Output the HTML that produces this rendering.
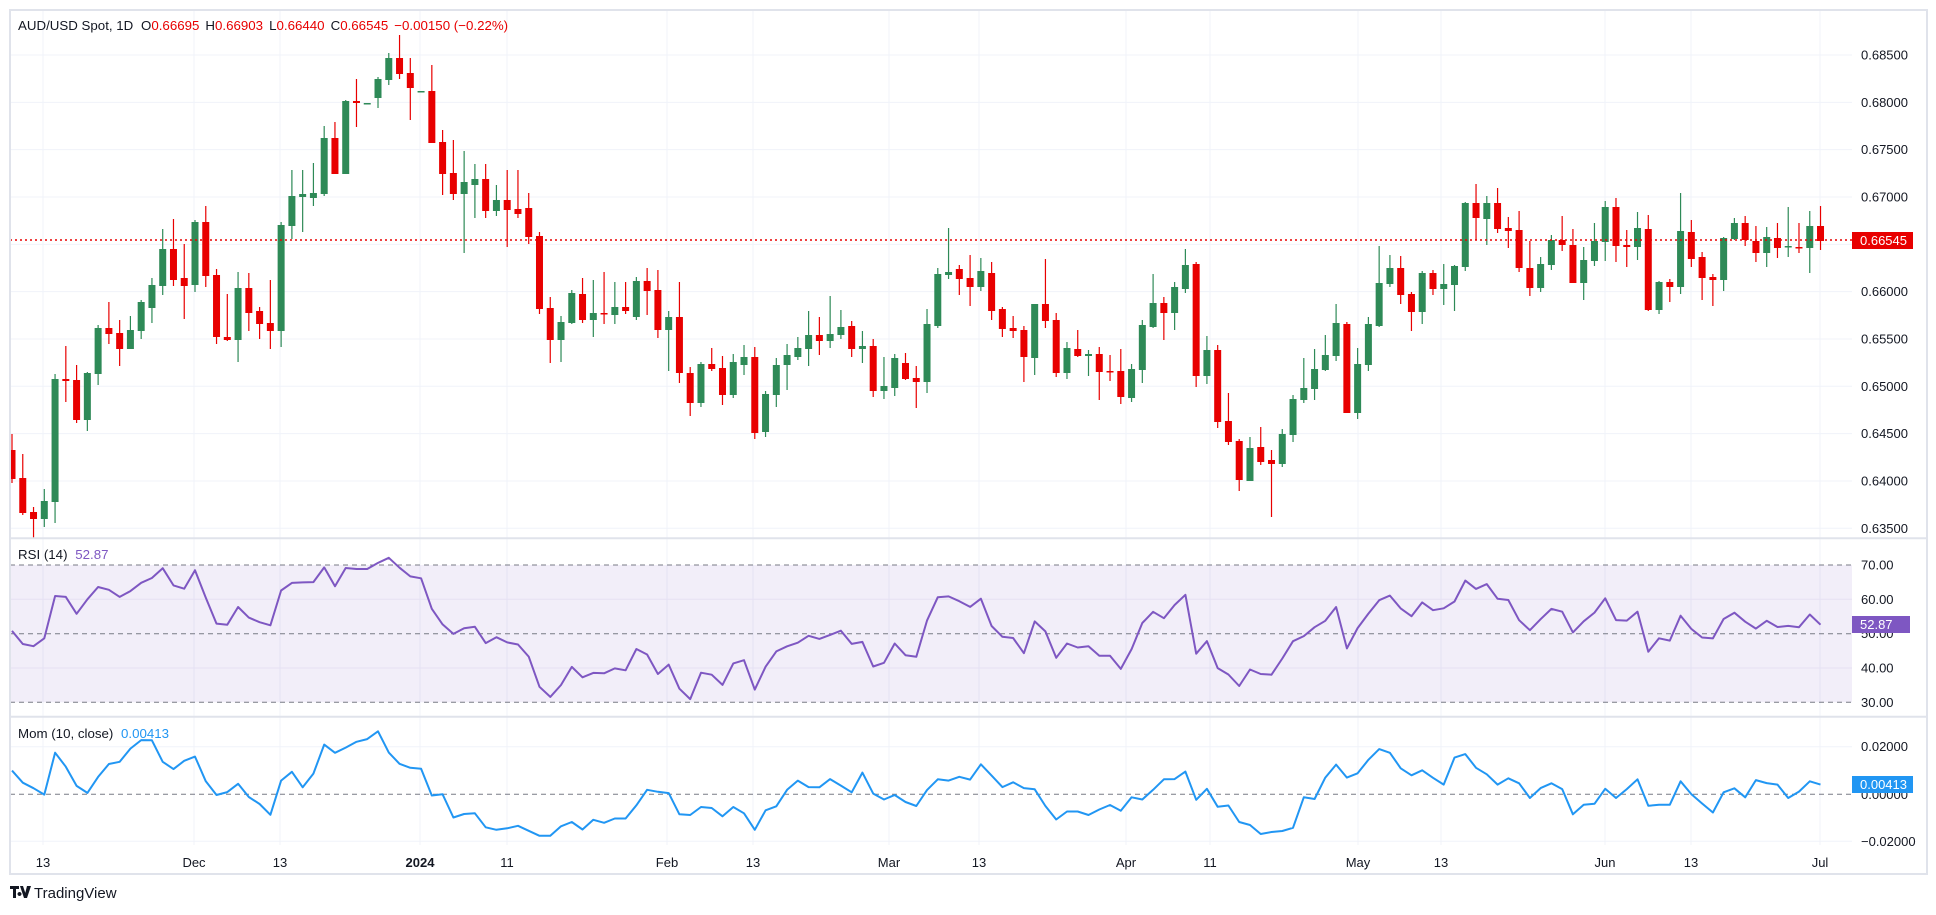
<!DOCTYPE html>
<html><head><meta charset="utf-8">
<style>
html,body{margin:0;padding:0;background:#fff;}
body{width:1936px;height:910px;overflow:hidden;font-family:"Liberation Sans",Arial,sans-serif;}
svg text{font-family:"Liberation Sans",Arial,sans-serif;}
</style></head>
<body>
<svg id="c" width="1936" height="910" xmlns="http://www.w3.org/2000/svg">
<rect x="0" y="0" width="1936" height="910" fill="#fff"/>
<g id="grid"></g>
<rect x="10" y="565" width="1842" height="137.3" fill="#7e57c2" fill-opacity="0.1"/>
<g id="rsiGrid"></g>
<g id="candles"></g>
<line x1="10" y1="240" x2="1852" y2="240" stroke="#e80000" stroke-width="1.5" stroke-dasharray="2,3"/>
<g id="ind"></g>
<g id="axis" font-size="13" fill="#131722"></g>
<rect x="10" y="10" width="1917" height="864" fill="none" stroke="#e0e3eb" stroke-width="2"/>
<line x1="10" y1="538.3" x2="1927" y2="538.3" stroke="#e0e3eb" stroke-width="2"/>
<line x1="10" y1="716.7" x2="1927" y2="716.7" stroke="#e0e3eb" stroke-width="2"/>
<text x="18" y="30" font-size="13.3" fill="#131722">AUD/USD Spot, 1D <tspan dx="4">O</tspan><tspan fill="#e80000">0.66695</tspan><tspan dx="6">H</tspan><tspan fill="#e80000">0.66903</tspan><tspan dx="6">L</tspan><tspan fill="#e80000">0.66440</tspan><tspan dx="6">C</tspan><tspan fill="#e80000">0.66545</tspan><tspan dx="6" fill="#e80000">−0.00150 (−0.22%)</tspan></text>
<text x="18" y="559" font-size="13.3" fill="#131722">RSI (14) <tspan dx="4" fill="#7e57c2">52.87</tspan></text>
<text x="18" y="738" font-size="13.3" fill="#131722">Mom (10, close) <tspan dx="4" fill="#2196f3">0.00413</tspan></text>
<rect x="1852" y="232" width="61" height="17" fill="#e80000"/>
<text x="1860" y="245" font-size="13" fill="#fff">0.66545</text>
<rect x="1852" y="616" width="58" height="17" fill="#7e57c2"/>
<text x="1860" y="629" font-size="13" fill="#fff">52.87</text>
<rect x="1852" y="776" width="61" height="17" fill="#2196f3"/>
<text x="1860" y="789" font-size="13" fill="#fff">0.00413</text>
<g transform="translate(10,884)">
<path d="M0 2h9v3H6v9H3V5H0z M10 2h3l4 12h-3z M9.5 8a2 2 0 1 0 0.01 0z M17 2h4l-4 12h-3z" fill="#131722"/>
<text x="24" y="14" font-size="15" fill="#131722">TradingView</text>
</g>
</svg>
<script>
const NS="http://www.w3.org/2000/svg";
function el(p,t,a){const e=document.createElementNS(NS,t);for(const k in a)e.setAttribute(k,a[k]);p.appendChild(e);return e;}
const D=[
[450,479,434,483],[478,513,454,515],[512,519,507,538],[519,501,489,527],[502,379,374,523],
[379,381,346,402],[380,420,365,423],[420,373,372,431],[374,328,325,385],[328,334,302,344],
[333,349,320,366],[349,330,316,349],[331,302,300,339],[308,285,278,323],[286,249,229,295],
[249,280,219,286],[278,286,244,319],[285,222,220,292],[222,276,206,287],[275,337,269,344],
[337,340,294,341],[340,288,272,362],[288,313,273,331],[311,324,307,339],[323,331,280,349],
[331,225,222,347],[226,196,170,239],[197,194,170,232],[198,193,163,206],[194,138,126,196],
[138,174,122,174],[174,101,100,174],[101,103,79,127],[103,103,103,104],[98,79,77,108],
[80,58,53,85],[58,74,35,79],[73,88,58,120],[91,91,91,91],[91,143,65,143],
[142,174,130,195],[173,194,140,200],[194,182,151,253],[185,179,164,218],[179,211,164,218],
[211,200,185,216],[200,210,170,247],[209,214,170,218],[208,237,193,244],[236,309,232,314],
[308,340,297,363],[340,322,316,362],[323,293,290,324],[294,320,278,323],[320,313,280,337],
[313,314,272,324],[315,307,282,324],[307,311,282,314],[317,281,277,320],[281,291,268,315],
[290,330,270,338],[330,317,311,371],[317,373,282,383],[373,403,367,416],[403,364,362,407],
[364,369,348,371],[368,395,356,405],[395,362,354,398],[365,357,345,375],[357,433,347,439],
[432,394,391,437],[395,365,358,407],[365,355,344,390],[357,348,337,360],[349,335,311,366],
[335,341,317,355],[341,334,296,348],[335,327,310,339],[326,349,321,357],[349,346,331,363],
[346,391,339,397],[391,386,357,399],[388,358,354,396],[363,379,353,380],[378,382,366,408],
[382,324,309,393],[326,274,268,328],[275,272,228,279],[269,279,265,295],[278,287,255,306],
[287,271,258,291],[273,311,262,320],[309,329,307,337],[328,331,316,338],[330,357,326,382],
[358,304,304,375],[304,321,259,328],[320,373,313,377],[373,348,342,379],[349,356,330,357],
[356,354,350,376],[354,372,347,400],[371,372,355,381],[371,397,349,404],[398,369,364,402],
[370,325,320,383],[327,303,274,328],[303,313,297,340],[313,287,282,330],[289,265,249,293],
[264,376,262,387],[376,350,336,384],[350,422,345,428],[421,442,393,445],[441,480,439,491],
[481,448,437,481],[447,462,427,465],[460,464,450,517],[464,434,429,467],[435,399,395,442],
[400,388,358,403],[389,369,349,400],[370,355,335,371],[356,323,304,361],[324,413,322,413],
[413,364,348,419],[365,324,317,371],[326,283,246,327],[284,268,255,287],[268,295,256,304],
[294,312,292,331],[312,273,271,324],[273,289,270,295],[289,284,264,305],[285,266,265,311],
[267,203,202,271],[203,218,184,240],[219,203,196,245],[203,229,188,233],[228,231,217,248],
[230,268,211,272],[268,288,241,296],[288,264,257,292],[265,240,235,270],[240,245,216,251],
[245,283,229,283],[283,260,247,300],[261,241,223,266],[242,207,201,261],[207,246,198,262],
[245,247,230,267],[247,228,212,260],[229,310,215,311],[310,282,281,314],[282,287,279,302],
[287,231,193,294],[232,259,220,267],[257,278,252,300],[277,280,274,306],[280,238,237,291],
[239,223,218,240],[223,240,216,246],[241,253,226,262],[253,237,227,267],[238,248,223,258],
[246,246,207,257],[247,248,223,253],[248,226,211,273],[226,241,206,250]];
const X=i=>12+10.765*i;
const G="#2e8a57",R="#e80000";
const grid=document.getElementById('grid'),cg=document.getElementById('candles'),ax=document.getElementById('axis'),ind=document.getElementById('ind'),rg=document.getElementById('rsiGrid');
for(let k=0;k<=10;k++){const y=55+k*47.33;el(grid,'line',{x1:10,y1:y,x2:1852,y2:y,stroke:'#f0f3fa','stroke-width':1});
 const t=el(ax,'text',{x:1861,y:y+4.5});t.textContent=(0.685-k*0.005).toFixed(5);}
const TL=[[43,'13'],[194,'Dec'],[280,'13'],[420,'2024',1],[507,'11'],[667,'Feb'],[753,'13'],[889,'Mar'],[979,'13'],[1126,'Apr'],[1210,'11'],[1358,'May'],[1441,'13'],[1605,'Jun'],[1691,'13'],[1820,'Jul']];
TL.forEach(([x,s,b])=>{el(grid,'line',{x1:x,y1:10,x2:x,y2:845,stroke:'#f0f3fa','stroke-width':1});
 const t=el(ax,'text',{x:x,y:867,'text-anchor':'middle'});if(b)t.setAttribute('font-weight','bold');t.textContent=s;});
[599.3,668].forEach(y=>el(rg,'line',{x1:10,y1:y,x2:1852,y2:y,stroke:'#e6e0f3','stroke-width':1}));
[565,633.7,702.3].forEach(y=>el(rg,'line',{x1:10,y1:y,x2:1852,y2:y,stroke:'#787b86','stroke-width':1,'stroke-dasharray':'5,4'}));
[[565,'70.00'],[599.3,'60.00'],[633.7,'50.00'],[668,'40.00'],[702.3,'30.00']].forEach(([y,s])=>{const t=el(ax,'text',{x:1861,y:y+4.5});t.textContent=s;});
[746.7,841.3].forEach(y=>el(rg,'line',{x1:10,y1:y,x2:1852,y2:y,stroke:'#f0f3fa','stroke-width':1}));
el(rg,'line',{x1:10,y1:794.3,x2:1852,y2:794.3,stroke:'#787b86','stroke-width':1,'stroke-dasharray':'5,4'});
[[746.7,'0.02000'],[794.3,'0.00000'],[841.3,'−0.02000']].forEach(([y,s])=>{const t=el(ax,'text',{x:1861,y:y+4.5});t.textContent=s;});
D.forEach((d,i)=>{const [o,c,h,l]=d;const col=c<=o?G:R;const x=X(i);
 el(cg,'line',{x1:x,y1:h,x2:x,y2:l,stroke:col,'stroke-width':1.2});
 const top=Math.min(o,c),bh=Math.max(1.5,Math.abs(o-c));
 const x0=Math.max(10,x-3.5);el(cg,'rect',{x:x0,y:top,width:x+3.5-x0,height:bh,fill:col});});
const P=y=>0.64+(481-y)/9465;
const pre=[0.6390,0.6370,0.6330,0.6340,0.6360,0.6310,0.6300,0.6320,0.6280,0.6300,0.6340,0.6330,0.6310,0.6280,0.6320,
0.6302,0.6317,0.6334,0.6380,0.6332,0.6389,0.6429,0.6508,0.6488,0.6427];
const C=pre.concat(D.map(d=>P(d[1])));const n0=pre.length;
let ag=0,al=0;const rsi=[];
for(let i=1;i<C.length;i++){const ch=C[i]-C[i-1];const g=Math.max(ch,0),l=Math.max(-ch,0);
 if(i<=14){ag+=g/14;al+=l/14;}else{ag=(ag*13+g)/14;al=(al*13+l)/14;}
 rsi[i]=al===0?100:100-100/(1+ag/al);}
let rp=[],mp=[];
for(let i=0;i<D.length;i++){const j=i+n0;const x=X(i).toFixed(1);
 rp.push(x+','+(633.7-(rsi[j]-50)*3.43).toFixed(1));
 mp.push(x+','+(794.3-(C[j]-C[j-10])*2365).toFixed(1));}
el(ind,'polyline',{points:rp.join(' '),fill:'none',stroke:'#7e57c2','stroke-width':2,'stroke-linejoin':'round'});
el(ind,'polyline',{points:mp.join(' '),fill:'none',stroke:'#2196f3','stroke-width':2,'stroke-linejoin':'round'});
</script>
</body></html>
